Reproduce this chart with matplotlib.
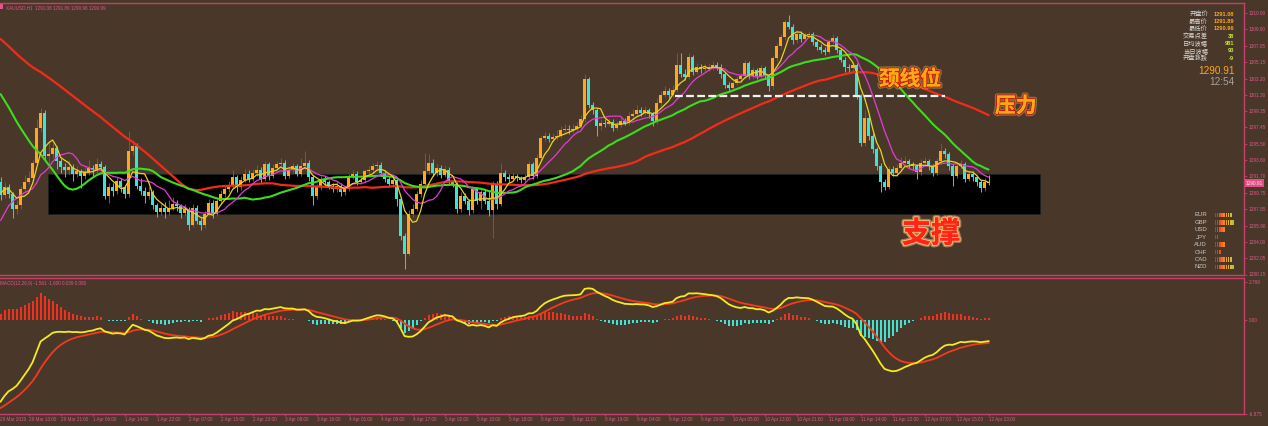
import numpy as np
import pandas as pd
import matplotlib
matplotlib.use("Agg")
import matplotlib.pyplot as plt
from matplotlib.patches import Rectangle
import matplotlib.patheffects as pe

plt.rcParams['font.family'] = ['Liberation Sans', 'DejaVu Sans']

# ---------------- data (XAUUSD H1) ----------------
# closes of the bars before the visible window (feed the moving averages / MACD)
prior_close = [
    1312.5, 1313.1, 1312.8, 1313.6, 1314.2, 1313.9, 1314.8, 1315.3, 1315.0, 1315.9,
    1316.4, 1316.1, 1316.9, 1317.5, 1317.2, 1317.8, 1318.3, 1317.9, 1318.6, 1319.0,
    1318.7, 1319.4, 1319.8, 1319.3, 1318.9, 1319.5, 1320.1, 1319.6, 1319.2, 1318.8,
    1318.4, 1318.9, 1318.2, 1317.8, 1318.3, 1317.6, 1317.1, 1317.5, 1316.9, 1316.4,
    1316.8, 1316.2, 1315.7, 1316.1, 1315.5, 1315.9, 1316.3, 1315.8, 1315.2, 1315.6,
    1316.0, 1315.4, 1314.9, 1315.3, 1315.8, 1316.2, 1315.7, 1315.1, 1314.6, 1315.0,
    1315.5, 1315.9, 1315.4, 1314.8, 1315.2, 1315.6, 1315.1, 1314.5, 1314.9, 1315.3,
    1314.8, 1314.2, 1314.6, 1315.0, 1314.5, 1313.9, 1314.3, 1314.7, 1314.1, 1313.6,
    1314.0, 1314.4, 1313.8, 1313.3, 1313.7, 1314.1, 1313.5, 1313.0, 1313.4, 1313.8,
    1313.2,
    1313.2, 1312.8, 1313.3, 1313.7, 1313.1, 1312.6, 1313.0, 1313.4, 1312.9, 1312.4,
    1312.8, 1313.2, 1312.7, 1313.0, 1312.6,
    1309.5, 1303.0, 1295.5, 1289.0, 1284.5, 1282.0, 1281.0,
    1282.5, 1284.5, 1286.5, 1288.0, 1289.5, 1290.5, 1291.0,
]

close = [
    1289.5, 1290.5, 1289.6, 1287.8, 1288.3, 1290.2, 1291.0, 1291.5, 1293.3, 1297.4,
    1299.1, 1294.1, 1294.3, 1295.0, 1293.5, 1292.8, 1292.4, 1292.8, 1292.0, 1292.3,
    1291.7, 1292.2, 1292.7, 1292.4, 1293.2, 1292.8, 1289.4, 1290.4, 1290.0, 1291.2,
    1290.4, 1289.6, 1294.7, 1295.3, 1290.6, 1290.0, 1289.4, 1289.9, 1288.3, 1287.5,
    1288.0, 1287.5, 1288.0, 1288.5, 1288.2, 1287.4, 1287.9, 1286.0, 1288.0, 1286.5,
    1286.0, 1287.3, 1288.6, 1287.3, 1288.8, 1289.6, 1290.2, 1290.6, 1291.6, 1290.5,
    1291.3, 1292.0, 1291.4, 1292.15, 1292.5, 1291.4, 1293.1, 1291.8, 1292.7, 1293.1,
    1293.3, 1291.8, 1292.5, 1292.9, 1292.0, 1292.9, 1293.3, 1291.6, 1289.4, 1290.4,
    1291.4, 1291.0, 1290.6, 1290.2, 1290.6, 1289.8, 1290.2, 1291.7, 1292.0, 1291.0,
    1291.3, 1292.3, 1292.5, 1292.9, 1293.0, 1292.1, 1291.4, 1290.8, 1291.3, 1289.0,
    1284.7, 1282.6, 1287.3, 1287.9, 1289.6, 1290.8, 1292.3, 1293.3, 1292.1, 1292.7,
    1291.9, 1292.5, 1291.0, 1290.8, 1287.9, 1289.4, 1288.8, 1287.7, 1290.2, 1288.8,
    1289.8, 1288.8, 1287.7, 1290.8, 1288.5, 1292.1, 1291.6, 1291.4, 1291.7, 1291.5,
    1291.3, 1291.6, 1293.1, 1291.8, 1293.9, 1296.2, 1296.4, 1296.1, 1296.3, 1296.5,
    1297.2, 1297.3, 1297.1, 1297.3, 1297.6, 1298.4, 1303.1, 1300.1, 1299.5, 1297.6,
    1298.0, 1297.9, 1298.1, 1297.4, 1297.8, 1298.2, 1298.0, 1298.8, 1299.0, 1299.5,
    1299.2, 1299.5, 1299.0, 1298.2, 1300.3, 1301.3, 1301.7, 1301.3, 1301.9, 1304.8,
    1303.8, 1303.4, 1305.8, 1304.0, 1304.6, 1304.3, 1304.5, 1304.5, 1304.8, 1304.6,
    1303.7, 1302.5, 1302.1, 1302.7, 1303.1, 1303.5, 1305.0, 1303.5, 1304.2, 1303.5,
    1304.4, 1303.5, 1302.3, 1305.6, 1307.0, 1308.1, 1309.9, 1309.3, 1307.7, 1308.5,
    1307.9, 1308.3, 1308.4, 1307.55, 1306.96, 1306.57, 1306.38, 1307.55, 1307.94, 1306.57,
    1305.4, 1304.6, 1304.4, 1304.8, 1301.1, 1295.66, 1298.58, 1296.44, 1294.9, 1292.93,
    1290.98, 1290.5, 1292.54, 1292.1, 1292.7, 1293.3, 1293.5, 1293.1, 1292.9, 1292.2,
    1293.3, 1293.5, 1292.9, 1292.15, 1293.5, 1294.7, 1294.3, 1292.9, 1291.76, 1292.9,
    1293.1, 1291.4, 1292.0, 1291.6, 1291.0, 1290.3, 1291.08, 1290.91,
]

high = [
    1291.6, 1291.0, 1290.8, 1289.9, 1288.9, 1290.6, 1291.9, 1292.3, 1293.6, 1298.4,
    1299.8, 1299.5, 1295.9, 1295.6, 1295.3, 1293.9, 1293.3, 1293.6, 1293.1, 1292.9,
    1292.6, 1292.9, 1293.6, 1293.0, 1293.9, 1293.5, 1293.0, 1290.9, 1290.9, 1291.6,
    1291.5, 1290.7, 1297.0, 1295.9, 1295.6, 1291.5, 1290.4, 1290.5, 1290.1, 1288.6,
    1288.4, 1288.7, 1288.9, 1289.3, 1288.9, 1288.5, 1288.4, 1288.1, 1288.5, 1288.3,
    1286.9, 1287.6, 1289.0, 1288.9, 1289.2, 1290.1, 1290.6, 1291.1, 1292.4, 1291.9,
    1291.7, 1292.6, 1292.5, 1292.6, 1293.0, 1292.8, 1293.5, 1293.4, 1293.1, 1293.5,
    1293.9, 1293.6, 1292.9, 1293.3, 1293.2, 1293.9, 1294.7, 1293.6, 1291.9, 1290.8,
    1291.8, 1291.7, 1291.3, 1290.9, 1291.0, 1290.9, 1290.6, 1292.0, 1292.5, 1292.3,
    1291.7, 1292.6, 1292.9, 1293.3, 1293.5, 1293.4, 1292.4, 1291.7, 1291.6, 1291.5,
    1289.3, 1285.0, 1287.7, 1288.4, 1290.0, 1291.3, 1294.5, 1294.3, 1293.7, 1293.1,
    1293.0, 1292.9, 1292.8, 1291.3, 1291.0, 1289.8, 1289.7, 1289.0, 1290.5, 1290.5,
    1290.2, 1290.1, 1290.0, 1291.2, 1291.1, 1293.3, 1292.5, 1292.0, 1292.1, 1292.0,
    1291.8, 1292.0, 1293.5, 1293.4, 1294.3, 1296.6, 1296.9, 1296.8, 1296.8, 1297.2,
    1297.6, 1297.9, 1297.7, 1297.9, 1298.1, 1298.9, 1303.7, 1303.4, 1300.5, 1299.8,
    1298.5, 1298.4, 1298.6, 1298.4, 1298.2, 1298.7, 1298.6, 1299.3, 1299.6, 1300.1,
    1299.9, 1300.0, 1299.8, 1299.3, 1300.9, 1301.8, 1302.3, 1302.1, 1302.4, 1306.2,
    1306.2, 1304.3, 1306.2, 1306.0, 1305.0, 1304.9, 1304.9, 1305.0, 1305.3, 1305.1,
    1304.9, 1304.0, 1302.8, 1303.1, 1303.5, 1303.9, 1305.4, 1305.3, 1304.6, 1304.5,
    1304.8, 1304.7, 1303.8, 1305.9, 1307.4, 1308.5, 1310.1, 1310.7, 1309.6, 1308.9,
    1308.8, 1308.7, 1308.8, 1308.7, 1307.8, 1307.3, 1306.9, 1307.9, 1308.4, 1308.2,
    1306.8, 1305.7, 1304.9, 1305.2, 1305.0, 1301.4, 1299.55, 1298.9, 1296.8, 1295.2,
    1293.3, 1291.4, 1292.9, 1292.9, 1293.1, 1294.0, 1294.1, 1293.8, 1293.4, 1293.2,
    1293.7, 1294.0, 1293.8, 1293.2, 1293.9, 1295.66, 1295.0, 1294.6, 1293.2, 1293.3,
    1293.6, 1293.4, 1292.4, 1292.3, 1291.9, 1291.3, 1291.5, 1291.89,
]

low = [
    1288.9, 1289.2, 1289.1, 1286.8, 1287.3, 1287.9, 1289.9, 1290.8, 1291.2, 1293.0,
    1296.9, 1293.6, 1293.2, 1293.9, 1292.6, 1292.1, 1291.6, 1292.0, 1291.2, 1291.6,
    1290.3, 1291.4, 1291.9, 1291.8, 1292.1, 1292.3, 1289.0, 1288.6, 1289.4, 1289.6,
    1289.9, 1289.1, 1289.3, 1294.2, 1290.2, 1289.5, 1288.6, 1289.0, 1287.9, 1286.9,
    1287.1, 1286.8, 1287.2, 1287.7, 1287.6, 1286.8, 1287.0, 1285.4, 1285.7, 1286.1,
    1285.4, 1285.6, 1287.0, 1286.8, 1287.0, 1288.5, 1289.3, 1289.9, 1290.3, 1289.8,
    1290.1, 1291.0, 1291.0, 1291.1, 1291.8, 1290.9, 1291.1, 1291.3, 1291.5, 1292.4,
    1292.8, 1291.4, 1291.5, 1292.1, 1291.7, 1291.7, 1292.6, 1291.2, 1288.3, 1289.0,
    1290.1, 1290.6, 1290.2, 1289.8, 1289.9, 1289.4, 1289.5, 1290.0, 1291.4, 1290.7,
    1290.8, 1291.0, 1292.0, 1292.2, 1292.6, 1291.8, 1291.0, 1290.4, 1290.5, 1288.2,
    1284.2, 1280.8, 1282.3, 1286.9, 1287.6, 1289.3, 1290.5, 1292.0, 1291.8, 1291.8,
    1291.5, 1291.6, 1290.7, 1290.4, 1287.4, 1287.5, 1288.4, 1287.1, 1287.4, 1288.4,
    1287.9, 1288.5, 1287.0, 1284.4, 1287.9, 1288.2, 1291.2, 1291.0, 1291.1, 1291.1,
    1290.9, 1291.0, 1291.3, 1291.4, 1291.5, 1293.6, 1295.9, 1295.7, 1295.8, 1296.0,
    1296.2, 1296.9, 1296.7, 1296.8, 1297.0, 1297.3, 1298.1, 1299.7, 1299.0, 1296.4,
    1297.2, 1297.5, 1297.6, 1297.0, 1297.1, 1297.5, 1297.7, 1297.8, 1298.5, 1298.7,
    1298.8, 1298.9, 1298.6, 1297.6, 1297.9, 1300.0, 1301.0, 1300.9, 1301.0, 1301.6,
    1303.4, 1303.0, 1303.1, 1303.6, 1303.7, 1303.9, 1304.0, 1304.1, 1304.2, 1304.2,
    1303.3, 1302.1, 1301.6, 1301.8, 1302.4, 1302.8, 1303.2, 1303.1, 1303.1, 1303.1,
    1303.2, 1303.1, 1301.7, 1302.0, 1305.3, 1306.7, 1307.8, 1309.0, 1307.3, 1307.4,
    1307.5, 1307.6, 1308.0, 1307.2, 1306.6, 1306.2, 1306.0, 1306.1, 1307.3, 1306.2,
    1305.1, 1304.0, 1304.0, 1304.1, 1300.8, 1295.3, 1295.3, 1296.0, 1294.5, 1292.5,
    1289.8, 1290.1, 1290.2, 1291.7, 1291.8, 1292.4, 1293.0, 1292.7, 1292.5, 1291.4,
    1291.9, 1293.0, 1292.5, 1291.8, 1291.9, 1293.2, 1293.9, 1292.5, 1290.6, 1291.5,
    1292.6, 1291.0, 1291.1, 1291.2, 1290.6, 1289.9, 1290.0, 1290.7,
]

ma_periods = [5, 10, 30, 60]
ma_colors = ['#E8D418', '#E23CD8', '#3CDC1E', '#F42A1A']
ma_widths = [0.9, 0.9, 1.5, 1.6]

price_ticks = [1280.15, 1282.05, 1284.00, 1285.90, 1287.85, 1289.75, 1291.70, 1293.60,
               1295.50, 1297.45, 1299.35, 1301.30, 1303.20, 1305.15, 1307.05, 1309.00, 1310.90]
macd_ticks = [2.768, 0.0, -6.875]
macd_tick_labels = ['2.768', '0.00', '-6.875']

time_labels = ['29 Mar 13:00', '29 Mar 21:00', '1 Apr 06:00', '1 Apr 14:00', '1 Apr 22:00',
               '2 Apr 07:00', '2 Apr 15:00', '2 Apr 23:00', '3 Apr 08:00', '3 Apr 16:00',
               '4 Apr 01:00', '4 Apr 09:00', '4 Apr 17:00', '5 Apr 02:00', '5 Apr 10:00',
               '5 Apr 18:00', '8 Apr 03:00', '8 Apr 11:00', '8 Apr 19:00', '9 Apr 04:00',
               '9 Apr 12:00', '9 Apr 20:00', '10 Apr 05:00', '10 Apr 13:00', '10 Apr 21:00',
               '11 Apr 06:00', '11 Apr 14:00', '11 Apr 22:00', '12 Apr 07:00', '12 Apr 15:00',
               '12 Apr 23:00']
first_time_label = '29 Mar 2019'

info_labels = ['开盘价', '最高价', '最低价', '交易点差', '日均波幅', '当日波幅', '开盘涨跌']
info_values = ['1291.08', '1291.89', '1290.96', '38', '981', '93', '-9']
last_price = 1290.91
clock_text = '12:54'

currencies = ['EUR', 'GBP', 'USD', 'JPY', 'AUD', 'CHF', 'CAD', 'NZD']
currency_strength = [8, 9, 5, 2, 5, 3, 8, 9]

neckline_price = 1301.1
neckline_bars = (168.5, 236.0)
support_zone = (1287.3, 1291.95)
support_bars = (11.85, 259.85)

# ---------------- derived series ----------------
n_prior = len(prior_close)
full_close = pd.Series(prior_close + close)
open_ = [prior_close[-1]] + close[:-1]
n = len(close)
idx = np.arange(n)

mas = [full_close.rolling(p, min_periods=1).mean().values[n_prior:] for p in ma_periods]
ema12 = full_close.ewm(span=12, adjust=False).mean()
ema26 = full_close.ewm(span=26, adjust=False).mean()
dif = ema12 - ema26
dea = dif.ewm(span=9, adjust=False).mean()
hist = dif - dea
dif_v = dif.values[n_prior:]
dea_v = dea.values[n_prior:]
hist_v = hist.values[n_prior:]

# ---------------- figure layout ----------------
W, H = 1268, 426
BG = '#493829'
PINK = '#C73E6A'
PINKT = '#E0558C'
fig = plt.figure(figsize=(W / 100, H / 100), dpi=100, facecolor=BG)


def fx(x):
    return x / W


def fy(y):
    return 1 - y / H


axis_right = 1244
ax = fig.add_axes([0, fy(274.5), fx(axis_right), (274.5 - 3) / H], facecolor=BG)
ax2 = fig.add_axes([0, fy(414), fx(axis_right), (414 - 277.5) / H], facecolor=BG)

x_left = -0.15
x_right = (axis_right - 0.6) / 4.0
for a in (ax, ax2):
    a.set_xlim(x_left, x_right)
    a.spines['left'].set_visible(False)
    for s in ('top', 'right', 'bottom'):
        a.spines[s].set_color(PINK)
        a.spines[s].set_linewidth(1.0)

ax.set_ylim(1280.15, 1312.1)
ax2.set_ylim(-6.875, 3.12)

# ---------------- price panel ----------------
ax.add_patch(Rectangle((support_bars[0], support_zone[0]),
                       support_bars[1] - support_bars[0],
                       support_zone[1] - support_zone[0],
                       facecolor='black', edgecolor='#202020', lw=0.6, zorder=1))

o = np.array(open_)
c = np.array(close)
h = np.array(high)
l = np.array(low)
up = c >= o
UP_BODY, UP_WICK = '#FFA51E', '#C8321E'
DN_BODY, DN_WICK = '#3FE3D6', '#3BC8BE'
ax.vlines(idx[up], l[up], h[up], color=UP_WICK, lw=0.75, zorder=2)
ax.vlines(idx[~up], l[~up], h[~up], color=DN_WICK, lw=0.75, zorder=2)
body_lo = np.minimum(o, c)
body_h = np.maximum(np.abs(c - o), 0.08)
ax.bar(idx[up], body_h[up], bottom=body_lo[up], width=0.72, color=UP_BODY, lw=0, zorder=2.5)
ax.bar(idx[~up], body_h[~up], bottom=body_lo[~up], width=0.72, color=DN_BODY, lw=0, zorder=2.5)

for m, col, lw in zip(mas[::-1], ma_colors[::-1], ma_widths[::-1]):
    ax.plot(idx, m, color=col, lw=lw, zorder=3, solid_capstyle='round')

ax.plot(list(neckline_bars), [neckline_price, neckline_price], color='#F2F2F2', lw=1.6,
        ls=(0, (3.5, 1.5)), zorder=5)

cjk = ['Noto Sans CJK SC', 'DejaVu Sans']
glow_orange = [pe.withStroke(linewidth=3.2, foreground='#FFE070', alpha=0.35),
               pe.withStroke(linewidth=1.6, foreground='#C81E0A'), pe.Normal()]
glow_red = [pe.withStroke(linewidth=3.5, foreground='#FFD0A0', alpha=0.45),
            pe.withStroke(linewidth=1.8, foreground='#FFB060'), pe.Normal()]
ax.text(227.35, 1303.17, '颈线位', family=cjk, fontsize=15, fontweight='bold',
        color='#FFA814', ha='center', va='center', path_effects=glow_orange, zorder=6)
ax.text(253.8, 1300.0, '压力', family=cjk, fontsize=15, fontweight='bold',
        color='#FFA814', ha='center', va='center', path_effects=glow_orange, zorder=6)
ax.text(232.6, 1285.0, '支撑', family=cjk, fontsize=21, fontweight='bold',
        color='#FF2418', ha='center', va='center', path_effects=glow_red, zorder=6)

ax.set_xticks([])
ax.yaxis.tick_right()
ax.set_yticks(price_ticks)
ax.set_yticklabels([f'{v:.2f}' for v in price_ticks])
ax.tick_params(axis='y', colors=PINKT, labelsize=3.4, length=2, width=0.6, pad=1.2)
ax.tick_params(axis='y', color=PINK)

ax.text(1.0015, last_price, f'{last_price:.2f}', transform=ax.get_yaxis_transform(),
        fontsize=3.4, color='#FBE6EE', ha='left', va='center',
        bbox=dict(boxstyle='square,pad=0.25', facecolor='#E64C86', edgecolor='none'),
        clip_on=False, zorder=7)

# ---------------- MACD panel ----------------
hcol = np.where(hist_v >= 0, '#F4301C', '#3FE3D6')
ax2.bar(idx, hist_v, width=0.5, color=hcol, lw=0, zorder=2)
ax2.plot(idx, dea_v, color='#F43A1E', lw=1.3, zorder=3)
ax2.plot(idx, dif_v, color='#F4EA1E', lw=1.3, zorder=4)

ax2.yaxis.tick_right()
ax2.set_yticks(macd_ticks)
ax2.set_yticklabels(macd_tick_labels)
ax2.tick_params(axis='y', colors=PINKT, labelsize=3.4, length=2, width=0.6, pad=1.2)
ax2.tick_params(axis='y', color=PINK)

tick_bars = list(range(7, n, 8))
ax2.set_xticks(tick_bars)
ax2.set_xticklabels(time_labels, ha='left')
ax2.tick_params(axis='x', colors=PINKT, labelsize=3.3, length=1.6, width=0.6, pad=0.4,
                direction='out')
ax2.tick_params(axis='x', color=PINK)
ax2.text(0.4 / fx(axis_right) / W, -0.021, first_time_label, transform=ax2.transAxes,
         fontsize=3.3, color=PINKT, ha='left', va='top')

ax2.text(0.0, 0.975, 'MACD(12,26,9) -1.561 -1.600 0.039 0.080', transform=ax2.transAxes,
         fontsize=3.3, color=PINKT, ha='left', va='top')

# ---------------- title & info panel ----------------
fig.text(fx(6), fy(7.5), 'XAUUSD,H1  1291.08 1291.89 1290.96 1290.99', fontsize=3.3,
         color=PINKT, ha='left', va='center')
fig.patches.append(Rectangle((fx(0), fy(9)), fx(3), 5 / H, transform=fig.transFigure,
                             facecolor=PINKT, edgecolor='none'))

row_y = [14, 21.4, 28.8, 36.2, 43.6, 51.0, 58.4]
val_colors = ['#FFA51E'] * 3 + ['#C8E63C'] * 4
for yy, lab, val, vc in zip(row_y, info_labels, info_values, val_colors):
    fig.text(fx(1208), fy(yy), lab, family=cjk, fontsize=4.5, color='#D8D8D8',
             ha='right', va='center')
    fig.text(fx(1234), fy(yy), val, fontsize=4.1, fontweight='bold', color=vc,
             ha='right', va='center')
fig.text(fx(1234.5), fy(71), f'{last_price:.2f}', fontsize=7.2,
         color='#FFA51E', ha='right', va='center')
fig.text(fx(1234.5), fy(82), clock_text, fontsize=7.2,
         color='#A8A09A', ha='right', va='center')

# currency strength meter
grad = ['#E02A18', '#E63C1A', '#EC521C', '#F06A1E', '#F28422', '#EE9E26',
        '#E2B42A', '#CCC02E', '#B4C232', '#9CBE36']
cur_y = [215, 222.3, 229.6, 237, 244.6, 252, 259.3, 266.8]
for yy, cur, s in zip(cur_y, currencies, currency_strength):
    fig.text(fx(1207), fy(yy), cur, fontsize=4.3, color='#C8C8C8', ha='right', va='center')
    for j in range(s):
        fig.patches.append(Rectangle((fx(1214.5 + 2.2 * j), fy(yy + 2.2)), 1.6 / W, 4.4 / H,
                                     transform=fig.transFigure, facecolor=grad[j],
                                     edgecolor='none'))

fig.savefig('out.png', dpi=100, facecolor=BG)
